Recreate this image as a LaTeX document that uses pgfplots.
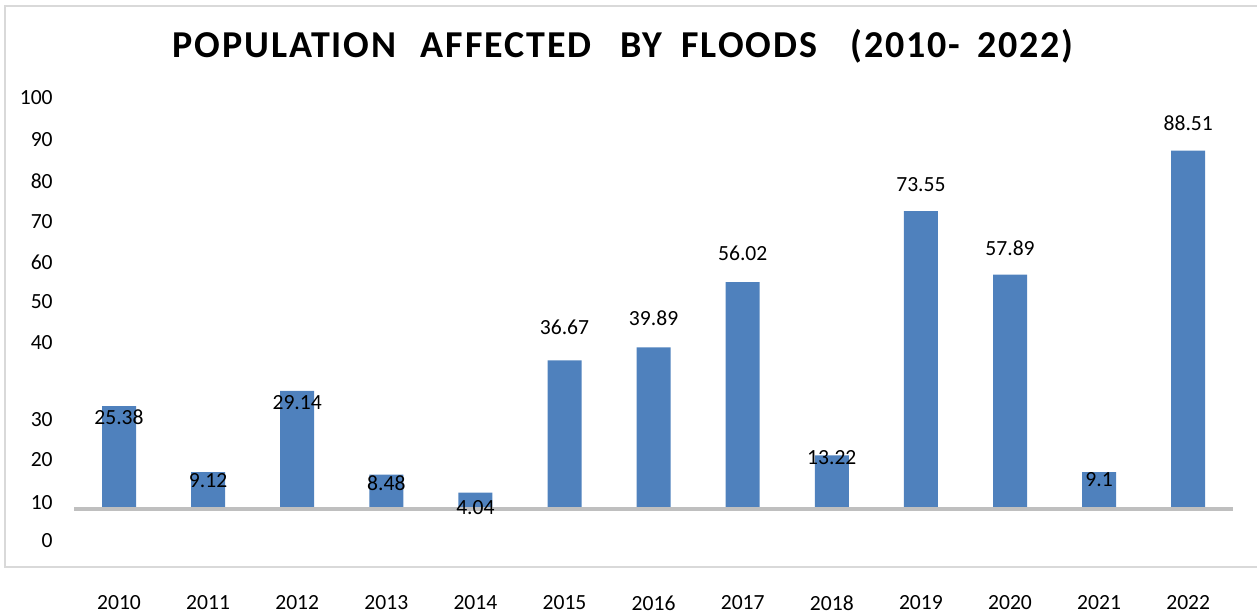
\documentclass[border=0pt]{standalone}
\usepackage{fontspec}
\setmainfont{Carlito}
\newfontfamily\titlefont[LetterSpace=5]{Carlito}
\usepackage{pgfplots}
\pgfplotsset{compat=1.18}

\definecolor{barblue}{HTML}{4F81BD}
\definecolor{baseg}{HTML}{BFBFBF}
\definecolor{frameg}{HTML}{D9D9D9}

\begin{document}
\begin{tikzpicture}
\begin{axis}[
    scale only axis,
    width=579.15bp, height=280.46bp,
    xmin=-0.5, xmax=12.5,
    ymin=-14.3, ymax=124.2,
    axis line style={draw=none},
    major tick length=0pt,
    xtick={0,1,2,3,4,5,6,7,8,9,10,11,12},
    xticklabels={2010,2011,2012,2013,2014,2015,2016,2017,2018,2019,2020,2021,2022},
    ytick={-7.9,1.7,12.1,22.0,41.2,51.1,61.0,70.9,81.0,91.1,101.5},
    yticklabels={0,10,20,30,40,50,60,70,80,90,100},
    xticklabel style={anchor=center, inner sep=0pt, yshift=-18bp},
    yticklabel style={anchor=east, inner sep=0pt, xshift=-10.7bp},
    tick label style={font=\fontsize{10.8bp}{12bp}\selectfont},
    /pgf/number format/assume math mode=true,
    clip=false,
]
% bars (height = value)
\addplot[ybar, bar width=17bp, fill=barblue, draw=none] coordinates {
    (0,25.38) (1,9.12) (2,29.14) (3,8.48) (4,4.04) (5,36.67) (6,39.89)
    (7,56.02) (8,13.22) (9,73.55) (10,57.89) (11,9.1) (12,88.51)};
% grey base line
\addplot[baseg, line width=1.75bp, mark=none] coordinates {(-0.5,0) (12.5,0)};
% value labels, where the original put them
\addplot[only marks, mark=*, mark size=0pt, mark options={draw=none, fill=none},
    nodes near coords, point meta=explicit symbolic,
    nodes near coords style={anchor=center, inner sep=0pt,
        font=\fontsize{10.8bp}{12bp}\selectfont}] coordinates {
    (0,22.7)[25.38] (1,6.9)[9.12] (2,26.4)[29.14] (3,6.4)[8.48] (4,0.25)[4.04]
    (5,44.9)[36.67] (6,47.2)[39.89] (7,63.2)[56.02] (8,12.8)[13.22]
    (9,80.0)[73.55] (10,64.4)[57.89] (11,7.2)[9.1] (12,95.3)[88.51]};

\draw[frameg, line width=0.75bp]
    (axis cs:12.772,124.2) -- (axis cs:-1.2795,124.2)
    -- (axis cs:-1.2795,-14.3) -- (axis cs:12.772,-14.3);

\node[anchor=base, font=\titlefont\fontsize{19bp}{22bp}\selectfont\bfseries]
    at (axis cs:5.657,111.4)
    {POPULATION\hspace{7bp} AFFECTED\hspace{9bp} BY\hspace{4.5bp} FLOODS\hspace{11.5bp} (2010-\hspace{3bp} 2022)};

\coordinate (bbl) at (axis cs:-1.3356,-25.68);
\coordinate (btr) at (axis cs:12.772,125.68);
\end{axis}
\pgfresetboundingbox
\path (bbl) rectangle (btr);
\end{tikzpicture}
\end{document}
